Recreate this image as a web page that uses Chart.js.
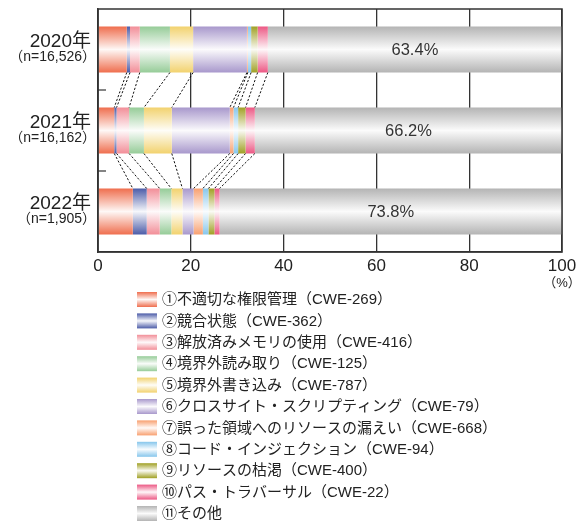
<!DOCTYPE html>
<html>
<head>
<meta charset="utf-8">
<script src="https://cdn.jsdelivr.net/npm/chart.js@4/dist/chart.umd.min.js"></script>
<style>
  html, body { margin: 0; padding: 0; background: #fff; }
  #wrap { width: 586px; height: 524px; position: relative; }
</style>
</head>
<body>
<div id="wrap"><canvas id="c"></canvas></div>
<script>
// Years and sample sizes
const categories = ['2020年', '2021年', '2022年'];
const sampleSizes = ['（n=16,526）', '（n=16,162）', '（n=1,905）'];

// Share of each weakness type (%) per year
const cwe269 = [6.2, 3.5, 7.5];
const cwe362 = [0.7, 0.5, 3.0];
const cwe416 = [2.1, 2.7, 2.8];
const cwe125 = [6.5, 3.2, 2.5];
const cwe787 = [5.0, 6.0, 2.4];
const cwe79  = [11.6, 12.5, 2.4];
const cwe668 = [0.2, 0.8, 2.0];
const cwe94  = [0.7, 1.0, 1.2];
const cwe400 = [1.4, 1.6, 1.3];
const cwe22  = [2.2, 2.0, 1.1];
const others = [63.4, 66.2, 73.8];

const seriesNames = [
  '①不適切な権限管理（CWE-269）',
  '②競合状態（CWE-362）',
  '③解放済みメモリの使用（CWE-416）',
  '④境界外読み取り（CWE-125）',
  '⑤境界外書き込み（CWE-787）',
  '⑥クロスサイト・スクリプティング（CWE-79）',
  '⑦誤った領域へのリソースの漏えい（CWE-668）',
  '⑧コード・インジェクション（CWE-94）',
  '⑨リソースの枯渇（CWE-400）',
  '⑩パス・トラバーサル（CWE-22）',
  '⑪その他'
];
const seriesValues = [cwe269, cwe362, cwe416, cwe125, cwe787, cwe79, cwe668, cwe94, cwe400, cwe22, others];
const seriesColors = ['#EF6E4E', '#4C5CA8', '#F28E98', '#96CC98', '#F2D26E', '#A898CC',
                      '#F8A070', '#86C6EC', '#A0A024', '#EC5884', '#B4B4B4'];

const xTicks = [0, 20, 40, 60, 80, 100];
const BAR_PCT = 0.568;
const FONT = '"Liberation Sans", "Noto Sans CJK JP", sans-serif';

function tint(hex, amt) {
  const n = parseInt(hex.slice(1), 16);
  const r = (n >> 16) & 255, g = (n >> 8) & 255, b = n & 255;
  const m = v => Math.round(v + (255 - v) * amt);
  return `rgb(${m(r)},${m(g)},${m(b)})`;
}

// Vertical sheen: solid at the edges, near white through the middle
function sheen(color) {
  return function (ctx) {
    const chart = ctx.chart;
    if (!chart.chartArea || ctx.type !== 'data') return color;
    const y = chart.scales.y;
    const band = Math.abs(y.getPixelForValue(1) - y.getPixelForValue(0));
    const t = band * BAR_PCT;
    const top = y.getPixelForValue(ctx.dataIndex) - t / 2;
    const g = chart.ctx.createLinearGradient(0, top, 0, top + t);
    g.addColorStop(0, color);
    g.addColorStop(0.5, tint(color, 0.95));
    g.addColorStop(1, color);
    return g;
  };
}

const datasets = seriesValues.map((vals, k) => ({
  label: seriesNames[k],
  data: vals,
  backgroundColor: sheen(seriesColors[k]),
  borderWidth: 0,
  categoryPercentage: 1,
  barPercentage: BAR_PCT
}));

const decorations = {
  id: 'decorations',
  afterDatasetsDraw(chart) {
    const c = chart.ctx;
    const area = chart.chartArea;
    const xs = chart.scales.x, ys = chart.scales.y;
    const n = categories.length;
    const last = seriesValues.length - 1;

    // dashed connectors between segment ends of neighbouring years
    c.save();
    c.strokeStyle = '#111';
    c.lineWidth = 1;
    c.setLineDash([2.2, 1.8]);
    for (let i = 0; i < n - 1; i++) {
      for (let k = 0; k < last; k++) {
        const a = chart.getDatasetMeta(k).data[i];
        const b = chart.getDatasetMeta(k).data[i + 1];
        c.beginPath();
        c.moveTo(a.x, a.y + a.height / 2);
        c.lineTo(b.x, b.y - b.height / 2);
        c.stroke();
      }
    }
    c.restore();

    // value of the remaining share, centred in its segment
    c.save();
    c.fillStyle = '#333';
    c.font = '16.5px ' + FONT;
    c.textAlign = 'center';
    c.textBaseline = 'middle';
    const metaO = chart.getDatasetMeta(last);
    metaO.data.forEach((el, i) => {
      const cx = (el.x + el.base) / 2;
      c.fillText(others[i].toFixed(1) + '%', cx, el.y + 1);
    });
    c.restore();

    // frame
    c.save();
    c.strokeStyle = '#333';
    c.lineWidth = 1.5;
    c.strokeRect(area.left, area.top, area.right - area.left, area.bottom - area.top);
    // inward ticks between years
    c.lineWidth = 1.2;
    for (let i = 0; i < n - 1; i++) {
      const yy = (ys.getPixelForValue(i) + ys.getPixelForValue(i + 1)) / 2;
      c.beginPath();
      c.moveTo(area.left, yy);
      c.lineTo(area.left + 8, yy);
      c.stroke();
    }
    c.restore();

    // year labels
    c.save();
    c.fillStyle = '#222';
    c.textAlign = 'right';
    c.textBaseline = 'middle';
    categories.forEach((lab, i) => {
      const yy = ys.getPixelForValue(i);
      c.font = '19px ' + FONT;
      c.fillText(lab, 91, yy - 8);
      c.font = '14px ' + FONT;
      c.fillText(sampleSizes[i], 96, yy + 8);
    });
    // unit under the last tick
    c.textAlign = 'center';
    c.font = '13px ' + FONT;
    c.fillText('（%）', xs.getPixelForValue(100), 283);
    c.restore();

    // legend
    c.save();
    c.textAlign = 'left';
    c.textBaseline = 'middle';
    c.font = '15px ' + FONT;
    seriesNames.forEach((name, k) => {
      const cy = 299.5 + k * 21.4;
      const top = cy - 7.5;
      const g = c.createLinearGradient(0, top, 0, top + 15);
      g.addColorStop(0, seriesColors[k]);
      g.addColorStop(0.5, tint(seriesColors[k], 0.95));
      g.addColorStop(1, seriesColors[k]);
      c.fillStyle = g;
      c.fillRect(137, top, 20, 15);
      c.fillStyle = '#222';
      c.fillText(name, 162, cy + 0.5);
    });
    c.restore();
  }
};

new Chart(document.getElementById('c'), {
  type: 'bar',
  data: { labels: categories, datasets },
  options: {
    indexAxis: 'y',
    responsive: true,
    maintainAspectRatio: false,
    animation: false,
    layout: { padding: { left: 0, top: 9, right: 24, bottom: 0 } },
    plugins: { legend: { display: false }, tooltip: { enabled: false } },
    scales: {
      x: {
        stacked: true,
        min: 0,
        max: 100,
        afterBuildTicks: s => { s.ticks = xTicks.map(v => ({ value: v })); },
        afterFit: s => { s.height = 524 - 252; },
        grid: { color: '#333', lineWidth: 1.3, drawTicks: false, tickLength: 0 },
        border: { display: true, color: '#333', width: 1.5 },
        ticks: { color: '#222', font: { size: 17, family: FONT }, padding: 4, maxRotation: 0 }
      },
      y: {
        stacked: true,
        afterFit: s => { s.width = 98; },
        grid: { display: false },
        border: { display: true, color: '#333', width: 1.5 },
        ticks: { display: false }
      }
    }
  },
  plugins: [decorations]
});
</script>
</body>
</html>
